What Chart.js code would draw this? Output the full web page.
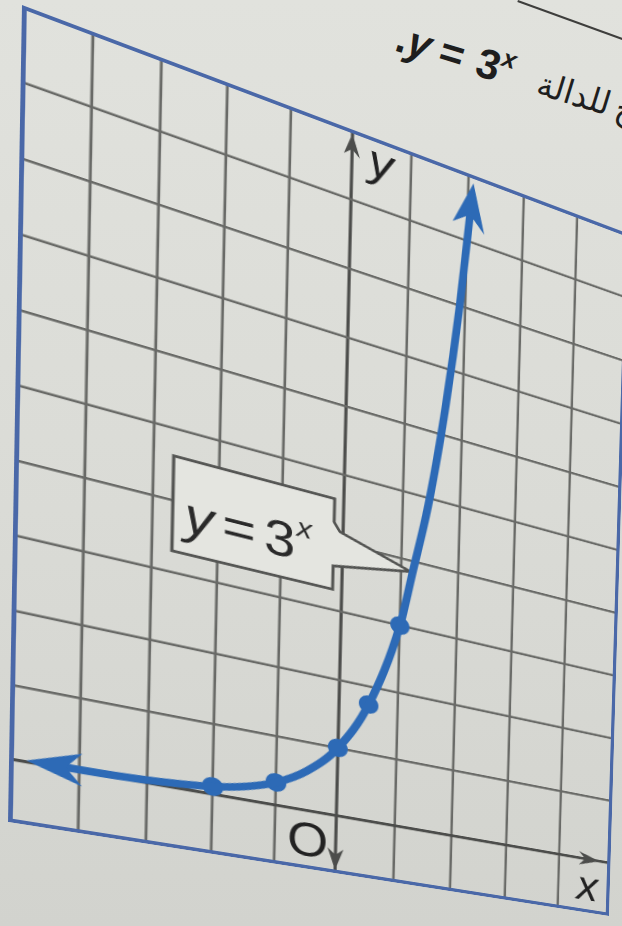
<!DOCTYPE html>
<html>
<head>
<meta charset="utf-8">
<script src="https://cdn.jsdelivr.net/npm/chart.js@4.4.1/dist/chart.umd.min.js"></script>
<style>
  html, body { margin: 0; width: 622px; height: 926px; overflow: hidden; }
  body { position: relative; background: linear-gradient(180deg, #e1e2dd 0%, #dadbd6 55%, #d2d3ce 100%); }
  #sheet { position: absolute; left: 0; top: 0; width: 600px; height: 820px; transform-origin: 0 0; }
  #sheet canvas { display: block; }
  .caption {
    position: absolute; left: 405px; top: 12px; white-space: nowrap;
    transform: rotate(17deg); transform-origin: 0 0;
    font: bold 42px "Liberation Sans", Arial, sans-serif; color: #1e1e1e;
  }
  .caption .eq { margin: 0 14px 0 10px; }
  .caption sup { font-size: 25px; font-style: italic; vertical-align: 17px; }
  .caption .ar { font: 33px "DejaVu Sans", sans-serif; margin-left: 27px; }
  .rule { position: absolute; left: 518px; top: 0; width: 130px; height: 2px; background: #3e3e3c; transform: rotate(20deg); transform-origin: 0 0; }
</style>
</head>
<body>
<div class="rule"></div>
<div class="caption">.<i>y</i><span class="eq">=</span>3<sup>x</sup><span class="ar" dir="rtl">ح&#8201;للدالة</span></div>
<div id="sheet"><canvas id="expChart" width="600" height="820"></canvas></div>

<script>
// axis window of the printed grid
const X_MIN = -5, X_MAX = 5;
const Y_MIN = -0.85, Y_MAX = 10;

// the curve y = 3^x (ends are where the arrowheads sit)
const curveX = [-4.2, -4, -3, -2, -1.5, -1, -0.5, 0, 0.5, 1, 1.2, 1.45, 1.7, 1.9, 2.04];
const curveY = [0.02, 0.02, 0.04, 0.11, 0.19, 0.33, 0.58, 1, 1.73, 3, 3.85, 4.95, 6.45, 8.0, 9.4];

// plotted points
const dotX = [-2, -1, 0, 0.5, 1];
const dotY = [0.11, 0.33, 1, 1.73, 3];

// labels
const axisNames = ['x', 'y'];
const originLabel = 'O';
const calloutBase = '3';
const calloutExp = 'x';

const BLUE = '#2d6ab6';
const FRAME = '#4a68a8';
const GRID = '#696a67';
const AXIS = '#4c4d4b';
const PAPER = '#e4e5e0';

// where the corners of the grid land in the photo (TL, TR, BR, BL)
const PHOTO_QUAD = [[22, 5], [629, 234], [609, 916], [8, 822]];

function fitToPhoto(el, w, h, quad) {
  const [[x0, y0], [x1, y1], [x2, y2], [x3, y3]] = quad;
  const dx1 = x1 - x2, dx2 = x3 - x2, dx3 = x0 - x1 + x2 - x3;
  const dy1 = y1 - y2, dy2 = y3 - y2, dy3 = y0 - y1 + y2 - y3;
  const den = dx1 * dy2 - dx2 * dy1;
  const g = (dx3 * dy2 - dx2 * dy3) / den;
  const k = (dx1 * dy3 - dx3 * dy1) / den;
  const a = x1 - x0 + g * x1, b = x3 - x0 + k * x3, c = x0;
  const d = y1 - y0 + g * y1, e = y3 - y0 + k * y3, f = y0;
  el.style.transform = `matrix3d(${a / w},${d / w},0,${g / w},${b / h},${e / h},0,${k / h},0,0,1,0,${c},${f},0,1)`;
}

function arrowHead(ctx, px, py, ang, len, half, color) {
  // notched arrowhead, notch sits on (px,py)
  ctx.save();
  ctx.translate(px, py);
  ctx.rotate(ang);
  ctx.beginPath();
  ctx.moveTo(len * 0.7, 0);
  ctx.lineTo(-len * 0.3, -half);
  ctx.lineTo(0, 0);
  ctx.lineTo(-len * 0.3, half);
  ctx.closePath();
  ctx.fillStyle = color;
  ctx.fill();
  ctx.restore();
}

const decor = {
  id: 'decor',
  beforeDatasetsDraw(chart) {
    const { ctx, scales: { x, y } } = chart;
    // callout box with pointer to the curve
    const pts = [
      [-2.7, 4.62], [-0.15, 4.62], [-0.15, 4.28], [-0.05, 4.16],
      [1.16, 3.84], [-0.15, 3.64], [-0.15, 3.3], [-2.7, 3.3]
    ];
    ctx.save();
    ctx.beginPath();
    pts.forEach(([vx, vy], i) => {
      const px = x.getPixelForValue(vx), py = y.getPixelForValue(vy);
      i ? ctx.lineTo(px, py) : ctx.moveTo(px, py);
    });
    ctx.closePath();
    ctx.fillStyle = PAPER;
    ctx.fill();
    ctx.lineWidth = 3;
    ctx.strokeStyle = '#545553';
    ctx.lineJoin = 'miter';
    ctx.stroke();

    // text y = 3^x
    let tx = x.getPixelForValue(-2.52);
    const ty = y.getPixelForValue(3.6);
    ctx.fillStyle = '#2a2a2a';
    ctx.textBaseline = 'alphabetic';
    ctx.font = 'italic 54px "Liberation Sans", Arial, sans-serif';
    ctx.fillText(axisNames[1], tx, ty);
    tx += ctx.measureText(axisNames[1]).width + 8;
    ctx.font = '54px "Liberation Sans", Arial, sans-serif';
    ctx.fillText('=', tx, ty);
    tx += ctx.measureText('=').width + 8;
    ctx.fillText(calloutBase, tx, ty);
    tx += ctx.measureText(calloutBase).width + 1;
    ctx.font = 'italic 30px "Liberation Sans", Arial, sans-serif';
    ctx.fillText(calloutExp, tx, ty - 26);
    ctx.restore();
  },
  afterDatasetsDraw(chart) {
    const { ctx, scales: { x, y } } = chart;
    const n = curveX.length;
    const px = i => x.getPixelForValue(curveX[i]);
    const py = i => y.getPixelForValue(curveY[i]);
    arrowHead(ctx, px(0), py(0), Math.atan2(py(0) - py(1), px(0) - px(1)), 48, 17, BLUE);
    arrowHead(ctx, px(n - 1), py(n - 1), Math.atan2(py(n - 1) - py(n - 2), px(n - 1) - px(n - 2)), 52, 17, BLUE);
  },
  afterDraw(chart) {
    const { ctx, chartArea: a, scales: { x, y } } = chart;
    const x0 = x.getPixelForValue(0), y0 = y.getPixelForValue(0);
    ctx.save();
    // axis arrowheads
    arrowHead(ctx, x.getPixelForValue(4.5), y0, 0, 24, 8, AXIS);
    arrowHead(ctx, x0, y.getPixelForValue(9.72), -Math.PI / 2, 24, 8, AXIS);
    arrowHead(ctx, x0, y.getPixelForValue(-0.58), Math.PI / 2, 24, 8, AXIS);

    // axis names and origin
    ctx.fillStyle = '#222';
    ctx.textBaseline = 'alphabetic';
    ctx.font = 'italic 50px "Liberation Sans", Arial, sans-serif';
    ctx.fillText(axisNames[1], x.getPixelForValue(0.28), y.getPixelForValue(9.45));
    ctx.fillText(axisNames[0], x.getPixelForValue(4.35), y.getPixelForValue(-0.65));
    ctx.font = '52px "Liberation Sans", Arial, sans-serif';
    ctx.fillText(originLabel, x.getPixelForValue(-0.8), y.getPixelForValue(-0.66));

    // printed frame
    ctx.strokeStyle = FRAME;
    ctx.lineWidth = 4;
    ctx.strokeRect(a.left + 2, a.top + 2, a.width - 4, a.height - 4);
    ctx.restore();
  }
};

const sheet = document.getElementById('sheet');
fitToPhoto(sheet, 600, 820, PHOTO_QUAD);

const gridColor = c => (c.tick && c.tick.value === 0 ? AXIS : GRID);
const gridWidth = c => (c.tick && c.tick.value === 0 ? 3.2 : 2.6);

new Chart(document.getElementById('expChart'), {
  type: 'scatter',
  data: {
    datasets: [
      {
        label: 'curve',
        data: curveX.map((v, i) => ({ x: v, y: curveY[i] })),
        showLine: true,
        borderColor: BLUE,
        borderWidth: 8,
        borderCapStyle: 'butt',
        borderJoinStyle: 'round',
        cubicInterpolationMode: 'monotone',
        pointRadius: 0,
        fill: false
      },
      {
        label: 'points',
        data: dotX.map((v, i) => ({ x: v, y: dotY[i] })),
        showLine: false,
        pointRadius: 10,
        pointBackgroundColor: BLUE,
        pointBorderColor: BLUE,
        pointBorderWidth: 0
      }
    ]
  },
  options: {
    responsive: false,
    animation: false,
    devicePixelRatio: 2,
    layout: { padding: 0, autoPadding: false },
    plugins: { legend: { display: false }, tooltip: { enabled: false } },
    scales: {
      x: {
        type: 'linear', min: X_MIN, max: X_MAX,
        ticks: { stepSize: 1, display: false },
        grid: { drawTicks: false, color: gridColor, lineWidth: gridWidth },
        border: { display: false }
      },
      y: {
        type: 'linear', min: Y_MIN, max: Y_MAX,
        ticks: { stepSize: 1, display: false },
        grid: { drawTicks: false, color: gridColor, lineWidth: gridWidth },
        border: { display: false }
      }
    }
  },
  plugins: [decor]
});
</script>
</body>
</html>
